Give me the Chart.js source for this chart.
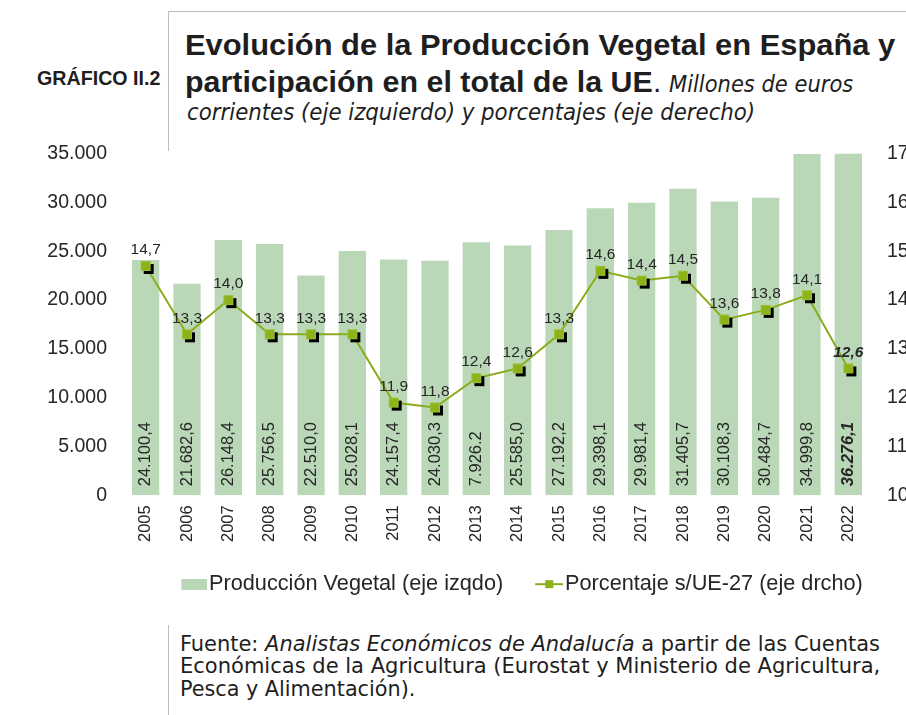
<!DOCTYPE html>
<html lang="es">
<head>
<meta charset="utf-8">
<script src="https://cdn.jsdelivr.net/npm/chart.js@4.4.1/dist/chart.umd.min.js"></script>
<style>
  html, body { margin: 0; padding: 0; background: #fff; }
  #page { position: relative; width: 906px; height: 715px; overflow: hidden; background: #fff; }
  .txt { position: absolute; white-space: nowrap; line-height: 1; color: #1e1e1e; transform-origin: 0 0; }
  .bold { font-family: "Liberation Sans", Arial, sans-serif; font-weight: bold; }
  .cond { font-family: "DejaVu Sans Condensed", "DejaVu Sans", sans-serif; }
  .rule { position: absolute; background: #bdbdbd; }
  #wrap { position: absolute; left: 0; top: 124px; width: 1044px; height: 481px; }
</style>
</head>
<body>
<div id="page">
  <div class="rule" style="left:168px; top:11px; width:1px; height:140px;"></div>
  <div class="rule" style="left:168px; top:11px; width:740px; height:1px;"></div>
  <div class="rule" style="left:168px; top:625px; width:1px; height:90px;"></div>

  <div class="txt bold fit" data-w="123" data-x="37" data-b="85" data-fs="19.5">GRÁFICO II.2</div>
  <div class="txt bold fit" data-w="710" data-x="185" data-b="55" data-fs="30">Evolución de la Producción Vegetal en España y</div>
  <div class="txt bold fit" data-w="468" data-x="185" data-b="92" data-fs="30">participación en el total de la UE</div>
  <div class="txt fit" style="font-family:'Liberation Sans',Arial,sans-serif;" data-x="653" data-b="92" data-fs="30">.</div>
  <div class="txt cond fit" style="font-style:italic;" data-w="184" data-x="669" data-b="92" data-fs="23">Millones de euros</div>
  <div class="txt cond fit" style="font-style:italic;" data-w="568" data-x="187" data-b="120" data-fs="23">corrientes (eje izquierdo) y porcentajes (eje derecho)</div>

  <div class="txt cond fit" data-w="700" data-x="180" data-b="651" data-fs="21.5">Fuente: <i>Analistas Económicos de Andalucía</i> a partir de las Cuentas</div>
  <div class="txt cond fit" data-w="700" data-x="180" data-b="673" data-fs="21.5">Económicas de la Agricultura (Eurostat y Ministerio de Agricultura,</div>
  <div class="txt cond fit" data-w="235" data-x="180" data-b="696" data-fs="21.5">Pesca y Alimentación).</div>

  <div id="wrap"><canvas id="grafico" width="1044" height="481"></canvas></div>
</div>
<script>
// Datos
const anios = ['2005', '2006', '2007', '2008', '2009', '2010', '2011', '2012', '2013',
    '2014', '2015', '2016', '2017', '2018', '2019', '2020', '2021', '2022'];
const produccionVegetal = [24100.4, 21682.6, 26148.4, 25756.5, 22510.0, 25028.1, 24157.4, 24030.3, 25926.2,
    25585.0, 27192.2, 29398.1, 29981.4, 31405.7, 30108.3, 30484.7, 34999.8, 36276.1];
const etiquetasProduccion = ['24.100,4', '21.682,6', '26.148,4', '25.756,5', '22.510,0', '25.028,1', '24.157,4',
    '24.030,3', '7.926.2', '25.585,0', '27.192,2', '29.398,1', '29.981,4', '31.405,7', '30.108,3', '30.484,7',
    '34.999,8', '36.276,1'];
const porcentajeUE = [14.7, 13.3, 14.0, 13.3, 13.3, 13.3, 11.9, 11.8, 12.4,
    12.6, 13.3, 14.6, 14.4, 14.5, 13.6, 13.8, 14.1, 12.6];
const ticksIzq = [0, 35000, 5000];   // min, max, paso
const ticksDer = [10, 17, 1];

const colorBarra = '#bad8b8';
const colorLinea = '#8aac1c';
const colorPunto = '#8cb319';
const fuente = '"Liberation Sans", Arial, sans-serif';

// colocar y ajustar los textos
function ajustarTextos() {
    document.querySelectorAll('.fit').forEach(el => {
        const fs = parseFloat(el.dataset.fs);
        el.style.fontSize = fs + 'px';
        el.style.left = el.dataset.x + 'px';
        el.style.top = (parseFloat(el.dataset.b) - 0.846 * fs) + 'px';
        if (el.dataset.w) {
            const w = el.offsetWidth;  // no le afecta el transform
            el.style.transform = 'scaleX(' + (parseFloat(el.dataset.w) / w) + ')';
        }
    });
}

// marcador cuadrado con sombra negra
function marcador() {
    const c = document.createElement('canvas');
    c.width = 18; c.height = 18;
    const g = c.getContext('2d');
    g.fillStyle = '#000';
    g.fillRect(7, 7, 10, 10);
    g.fillStyle = colorPunto;
    g.fillRect(4, 4, 10, 10);
    g.strokeStyle = '#9cbf3a';
    g.lineWidth = 1;
    g.strokeRect(4.5, 4.5, 9, 9);
    return c;
}

// simbolos de la leyenda: lienzo ancho con el dibujo pegado al texto
function simboloBarra() {
    const c = document.createElement('canvas');
    c.width = 48; c.height = 11;
    const g = c.getContext('2d');
    g.fillStyle = colorBarra;
    g.fillRect(22, 0, 26, 11);
    return c;
}

function simboloLinea() {
    const c = document.createElement('canvas');
    c.width = 48; c.height = 12;
    const g = c.getContext('2d');
    g.strokeStyle = colorLinea;
    g.lineWidth = 2;
    g.beginPath(); g.moveTo(20, 6); g.lineTo(48, 6); g.stroke();
    g.fillStyle = colorPunto;
    g.fillRect(30, 2, 8, 8);
    return c;
}

function miles(v) {
    return String(v).replace(/\B(?=(\d{3})+(?!\d))/g, '.');
}

const etiquetasPlugin = {
    id: 'etiquetas',
    afterDatasetsDraw(chart) {
        const ctx = chart.ctx;
        const ultimo = anios.length - 1;
        ctx.save();
        ctx.fillStyle = '#262626';
        // etiquetas de las barras (verticales)
        const barras = chart.getDatasetMeta(0).data;
        barras.forEach((el, i) => {
            ctx.save();
            ctx.translate(el.x, chart.chartArea.bottom - 9);
            ctx.rotate(-Math.PI / 2);
            ctx.font = (i === ultimo ? 'italic bold ' : '') + '16.5px ' + fuente;
            ctx.textAlign = 'left';
            ctx.textBaseline = 'middle';
            ctx.fillText(etiquetasProduccion[i], 0, 0);
            ctx.restore();
        });
        // etiquetas de los puntos
        const puntos = chart.getDatasetMeta(1).data;
        puntos.forEach((el, i) => {
            ctx.font = (i === ultimo ? 'italic bold ' : '') + '15.5px ' + fuente;
            ctx.textAlign = 'center';
            ctx.textBaseline = 'middle';
            ctx.fillText(porcentajeUE[i].toFixed(1).replace('.', ','), el.x, el.y - 16);
        });
        ctx.restore();
    }
};

const ctx = document.getElementById('grafico').getContext('2d');
const puntoImg = marcador();
const simbolos = [simboloBarra(), simboloLinea()];

new Chart(ctx, {
    type: 'bar',
    data: {
        labels: anios,
        datasets: [
            {
                type: 'bar',
                label: 'Producción Vegetal (eje izqdo)',
                data: produccionVegetal,
                backgroundColor: colorBarra,
                borderWidth: 0,
                categoryPercentage: 1,
                barPercentage: 0.66,
                yAxisID: 'y',
                order: 2
            },
            {
                type: 'line',
                label: 'Porcentaje s/UE-27 (eje drcho)',
                data: porcentajeUE,
                borderColor: colorLinea,
                backgroundColor: colorPunto,
                borderWidth: 2,
                pointStyle: puntoImg,
                pointRadius: 6,
                tension: 0,
                yAxisID: 'y1',
                order: 1
            }
        ]
    },
    options: {
        responsive: false,
        animation: false,
        devicePixelRatio: 1,
        layout: { padding: { top: 13, left: 0, right: 13, bottom: 0 } },
        plugins: {
            tooltip: { enabled: false },
            legend: {
                position: 'bottom',
                labels: {
                    usePointStyle: true,
                    pointStyleWidth: 30,
                    boxHeight: 11,
                    padding: 21,
                    color: '#262626',
                    font: { family: fuente, size: 21.7 },
                    generateLabels(chart) {
                        return chart.data.datasets.map((ds, i) => ({
                            text: ds.label,
                            datasetIndex: i,
                            fillStyle: i === 0 ? colorBarra : colorPunto,
                            strokeStyle: i === 0 ? colorBarra : colorLinea,
                            lineWidth: 0,
                            pointStyle: simbolos[i],
                            fontColor: '#262626'
                        }));
                    }
                }
            }
        },
        scales: {
            x: {
                grid: { display: false, drawTicks: false },
                border: { display: false },
                ticks: {
                    minRotation: 90,
                    maxRotation: 90,
                    padding: 10,
                    color: '#262626',
                    font: { family: fuente, size: 16.5 }
                },
                afterFit(scale) { scale.height = 57; }
            },
            y: {
                position: 'left',
                min: ticksIzq[0],
                max: ticksIzq[1],
                grid: { display: false, drawTicks: false },
                border: { display: false },
                ticks: {
                    stepSize: ticksIzq[2],
                    padding: 18,
                    color: '#262626',
                    font: { family: fuente, size: 19.5 },
                    callback: v => miles(v)
                },
                afterFit(scale) { scale.width = 125; }
            },
            y1: {
                position: 'right',
                min: ticksDer[0],
                max: ticksDer[1],
                grid: { display: false, drawTicks: false },
                border: { display: false },
                ticks: {
                    stepSize: ticksDer[2],
                    padding: 18,
                    color: '#262626',
                    font: { family: fuente, size: 19.5 }
                },
                afterFit(scale) { scale.width = 162; }
            }
        }
    },
    plugins: [etiquetasPlugin]
});

ajustarTextos();
if (document.fonts && document.fonts.ready) {
    document.fonts.ready.then(ajustarTextos);
}
</script>
</body>
</html>
